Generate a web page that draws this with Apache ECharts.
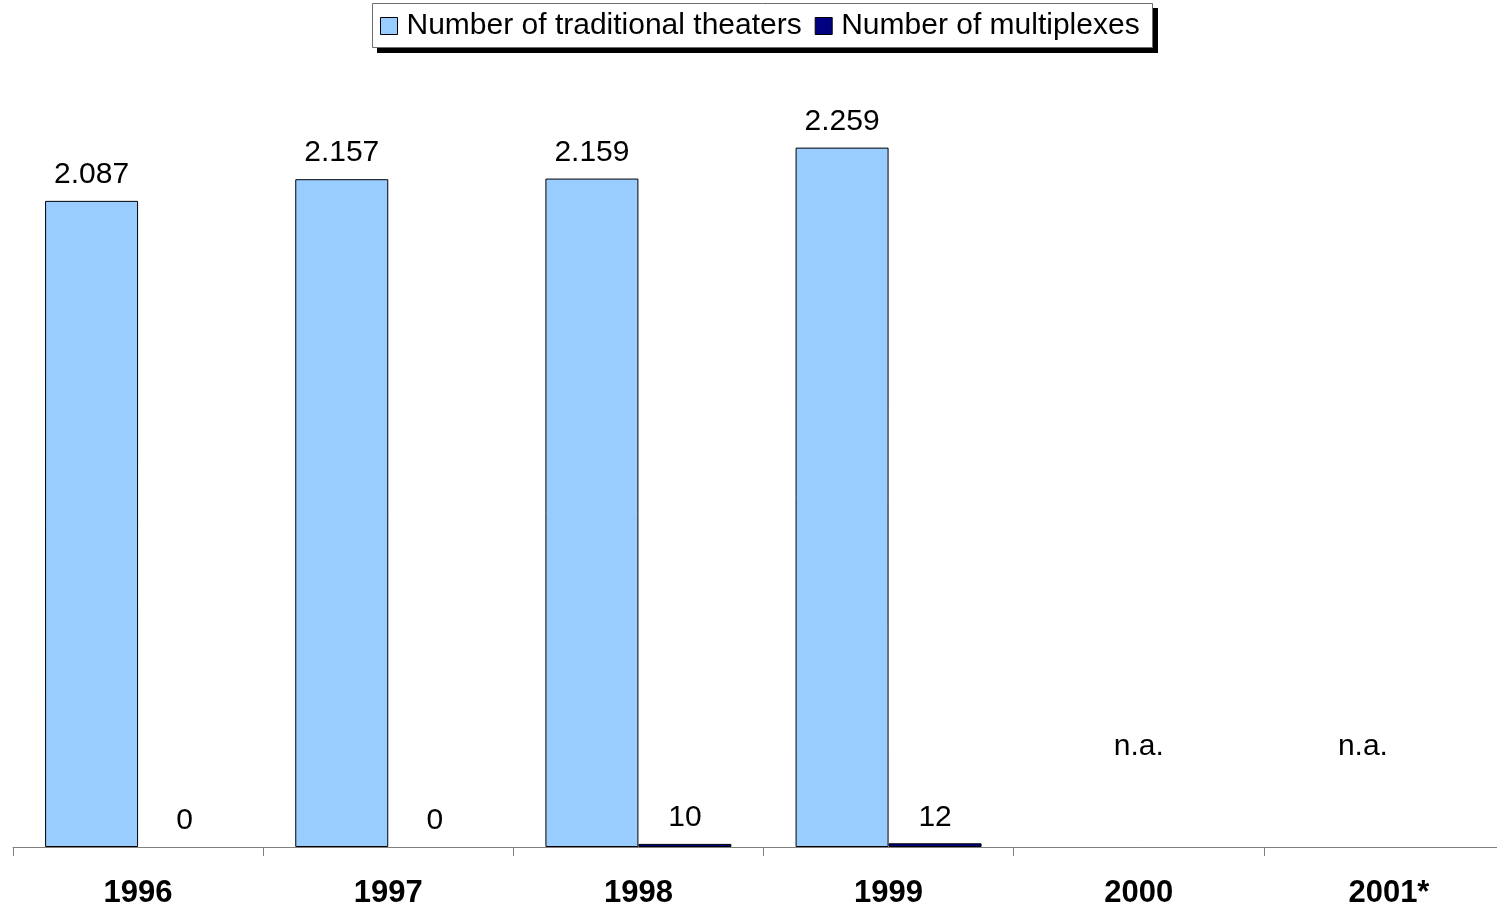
<!DOCTYPE html>
<html>
<head>
<meta charset="utf-8">
<script src="https://cdn.jsdelivr.net/npm/echarts@6/dist/echarts.min.js"></script>
<style>
  html, body { margin: 0; padding: 0; background: #fff; overflow: hidden; }
  /* the last category runs a little past the right edge of the window */
  #chart { width: 1514px; height: 909px; }
</style>
</head>
<body>
<div id="chart"></div>
<script>
// Cinema counts per year
const years = ['1996', '1997', '1998', '1999', '2000', '2001*'];
const traditionalTheaters = [2087, 2157, 2159, 2259, null, null];
const multiplexes = [0, 0, 10, 12, null, null];
// Years without data get an "n.a." note at this height
const naNotes = [null, null, null, null, 323, 323];
const naOffsets = [0, 0, 0, 0, 0, -26];

const fmt = v => {
  const s = String(Math.round(v));
  return s.replace(/\B(?=(\d{3})+(?!\d))/g, '.');
};

const font = 'Liberation Sans, Arial, Helvetica, sans-serif';

const chart = echarts.init(document.getElementById('chart'), null, { renderer: 'canvas' });

const valueLabel = {
  show: true, position: 'top', distance: 11,
  fontSize: 30, color: '#000', fontFamily: font,
  formatter: p => fmt(p.value)
};

chart.setOption({
  animation: false,
  textStyle: { fontFamily: font },
  // legend frame with a hard drop shadow
  graphic: [
    { type: 'rect', z: 0, silent: true,
      shape: { x: 377, y: 8, width: 781, height: 45 },
      style: { fill: '#000' } },
    { type: 'rect', z: 1, silent: true,
      shape: { x: 372.5, y: 3.5, width: 780, height: 44 },
      style: { fill: '#fff', stroke: '#6e6e6e', lineWidth: 1 } }
  ],
  legend: {
    data: ['Number of traditional theaters', 'Number of multiplexes'],
    icon: 'rect',
    left: 372,
    top: 3,
    padding: [8, 12, 6, 8],
    itemWidth: 17,
    itemHeight: 17,
    itemGap: 13,
    backgroundColor: 'transparent',
    borderWidth: 0,
    textStyle: { fontSize: 30, color: '#000', fontFamily: font, padding: [3, 0, 0, 4] },
    itemStyle: { borderColor: '#000', borderWidth: 1 }
  },
  grid: { left: 13, top: 73, right: 0, bottom: 61, containLabel: false },
  xAxis: {
    type: 'category',
    data: years,
    axisLine: { lineStyle: { color: '#808080', width: 1 } },
    axisTick: { show: true, length: 9, inside: false, lineStyle: { color: '#808080' } },
    axisLabel: { fontSize: 31, fontWeight: 'bold', color: '#000', margin: 31, fontFamily: font },
    splitLine: { show: false }
  },
  yAxis: {
    type: 'value',
    min: 0,
    max: 2500,
    show: false,
    splitLine: { show: false }
  },
  series: [
    {
      name: 'Number of traditional theaters',
      type: 'bar',
      data: traditionalTheaters,
      barWidth: 93,
      barGap: '0%',
      itemStyle: { color: '#99CCFF', borderColor: '#000', borderWidth: 1 },
      label: valueLabel
    },
    {
      name: 'Number of multiplexes',
      type: 'bar',
      // a zero count draws no bar, only its label
      data: multiplexes.map(v => v === 0
        ? { value: 0, itemStyle: { color: 'transparent', borderWidth: 0 } }
        : v),
      barWidth: 93,
      barGap: '0%',
      itemStyle: { color: '#000080', borderColor: '#000', borderWidth: 1 },
      label: valueLabel
    },
    {
      type: 'scatter',
      data: naNotes.map((v, i) => v === null ? null : {
        value: v,
        label: { offset: [naOffsets[i], 0] }
      }),
      symbolSize: 0,
      silent: true,
      itemStyle: { opacity: 1 },
      label: {
        show: true, position: 'inside', formatter: 'n.a.',
        fontSize: 30, color: '#000', opacity: 1, fontFamily: font
      }
    }
  ]
});
</script>
</body>
</html>
